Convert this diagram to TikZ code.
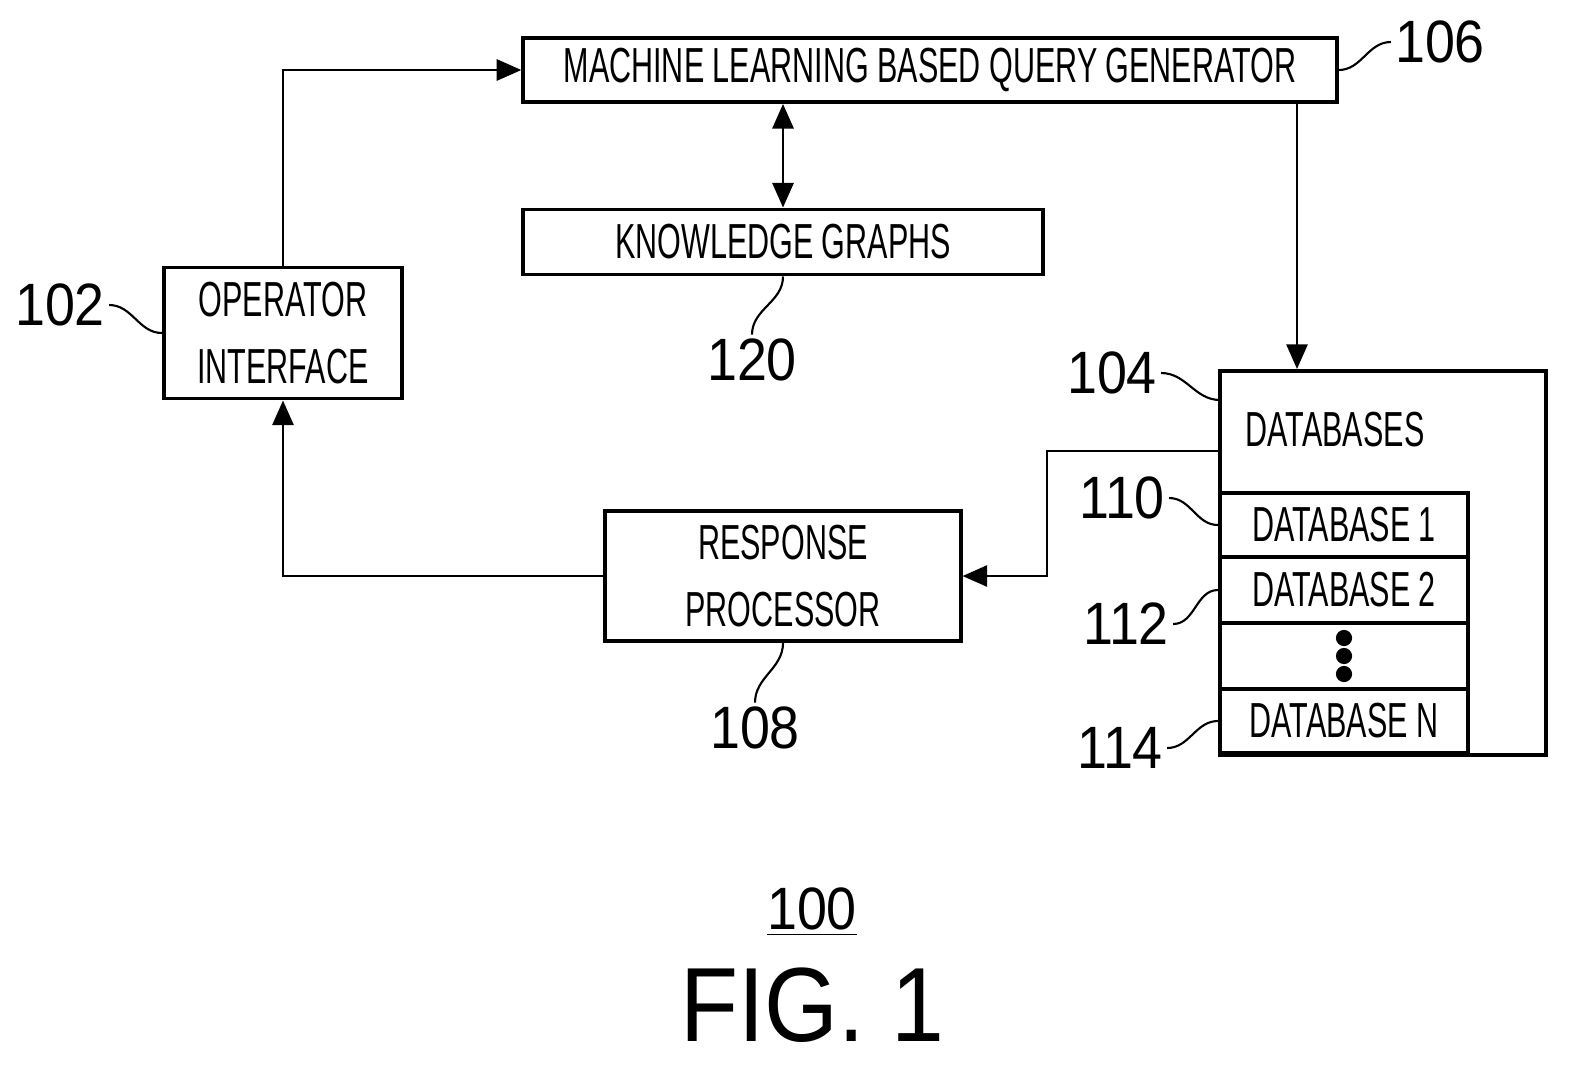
\documentclass[tikz,border=0pt]{standalone}
\usepackage{fontspec}
\setmainfont{Liberation Sans}[FakeStretch=0.62]
\newfontfamily\reffont{Liberation Sans}[FakeStretch=0.9]
\usetikzlibrary{arrows.meta, positioning}

\tikzset{
  blk/.style={draw, line width=1.1pt, inner sep=0pt, align=center, font=\fontsize{14}{17}\selectfont},
  row/.style={blk, minimum width=2.48cm, anchor=west},
  flow/.style={line width=0.7pt, -{Triangle[length=7pt,width=6pt]}},
  lead/.style={line width=0.6pt},
  ref/.style={inner sep=1pt, font=\reffont\fontsize{17}{20}\selectfont}
}

\begin{document}
\begin{tikzpicture}[x=0.01cm, y=-0.01cm]
	\useasboundingbox (0,0) rectangle (1591,1072);

	% blocks
	\node[blk, minimum width=8.13cm, minimum height=0.64cm] (mlqg) at (930,70) {MACHINE LEARNING BASED QUERY GENERATOR};
	\node[blk, minimum width=5.19cm, minimum height=0.65cm] (kg) at (783,242) {KNOWLEDGE GRAPHS};
	\node[blk, minimum width=2.38cm, minimum height=1.31cm] (opi) at (283,333) {OPERATOR\\[2pt]INTERFACE};
	\node[blk, minimum width=3.55cm, minimum height=1.30cm] (resp) at (783,576) {RESPONSE\\[2pt]PROCESSOR};
	\node[blk, minimum width=3.26cm, minimum height=3.84cm] (db) at (1383,563) {};
	\node[font=\fontsize{14}{17}\selectfont] (dbt) at (1335,430) {DATABASES};
	\node[row, minimum height=0.64cm] (db1) at (db.west |- 0,525) {DATABASE 1};
	\node[row, minimum height=0.66cm] (db2) at (db.west |- 0,590) {DATABASE 2};
	\node[row, minimum height=0.66cm] (dbd) at (db.west |- 0,656) {};
	\node[row, minimum height=0.64cm] (dbn) at (db.west |- 0,721) {DATABASE N};
	\foreach \yy in {638,656,674} \fill (1344,\yy) circle (2.3pt);

	% connectors
	\draw[flow] (opi.north) |- (mlqg.west);
	\draw[flow, {Triangle[length=7pt,width=6pt]}-{Triangle[length=7pt,width=6pt]}] (mlqg.south -| kg.north) -- (kg.north);
	\coordinate (qd) at (1297,102);
	\draw[flow] (qd) -- (qd |- db.north);
	\coordinate (dbo) at (1220,451);
	\coordinate (bend) at (1047,451);
	\draw[flow] (dbo) -- (bend) |- (resp.east);
	\draw[flow] (resp.west) -| (opi.south);

	% reference numerals
	\node[ref] (l106) at (1440,42) {106};
	\node[ref] (l102) at (60,305) {102};
	\node[ref] (l120) at (752,360) {120};
	\node[ref] (l104) at (1112,373) {104};
	\node[ref] (l110) at (1122,498) {110};
	\node[ref] (l112) at (1126,624) {112};
	\node[ref] (l114) at (1120,748) {114};
	\node[ref] (l108) at (755,728) {108};
	\draw[lead] (mlqg.east) to[out=0,in=180] (l106.west);
	\draw[lead] (l102.east) to[out=0,in=180] (opi.west);
	\draw[lead] (kg.south) to[out=-90,in=90] (l120.north);
	\draw[lead] (l104.east) to[out=0,in=180] (1220,400);
	\draw[lead] (l110.east) to[out=0,in=180] (db1.west);
	\draw[lead] (l112.east) to[out=0,in=180] (db2.west);
	\draw[lead] (l114.east) to[out=0,in=180] (dbn.west);
	\draw[lead] (resp.south) to[out=-90,in=90] (l108.north);

	\node[ref] (l100) at (812,912) {\underline{100}};
	\node[font=\reffont\fontsize{30}{34}\selectfont] (fig) at (812,1005) {FIG. 1};
\end{tikzpicture}
\end{document}
